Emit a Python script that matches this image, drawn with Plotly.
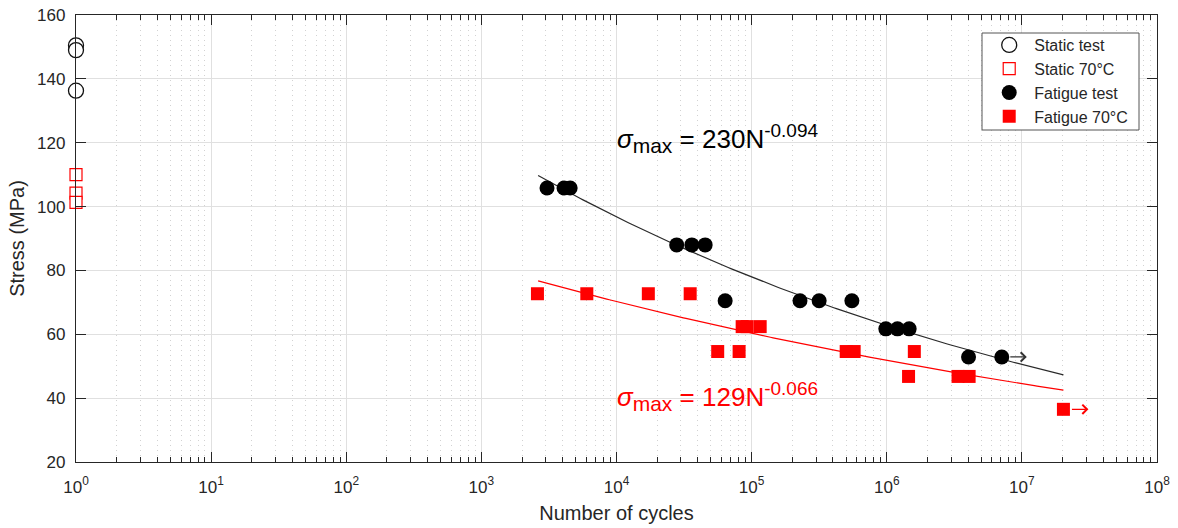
import numpy as np
import plotly.graph_objects as go

# ---- data -------------------------------------------------------------
static_n = [1, 1, 1]
static_s = [150.5, 149.0, 136.3]

static70_n = [1, 1, 1]
static70_s = [110.0, 104.2, 101.3]

fatigue_n = [3060, 4090, 4540, 27900, 36100, 45300, 63700, 228000, 316000,
             552000, 984000, 1200000, 1465000, 4030000, 7100000]
fatigue_s = [105.8, 105.8, 105.8, 88.0, 88.0, 88.0, 70.5, 70.5, 70.5,
             70.5, 61.7, 61.7, 61.7, 52.9, 52.9]

fatigue70_n = [2600, 6030, 17200, 35100, 85100, 92700, 115700, 56100, 80800,
               501000, 574000, 1600000, 1450000, 3370000, 4070000, 20300000]
fatigue70_s = [72.7, 72.7, 72.7, 72.7, 62.4, 62.4, 62.4, 54.6, 54.6,
               54.6, 54.6, 54.6, 46.8, 46.8, 46.8, 36.5]

# run-outs (specimens that did not fail)
runout_black = (7100000, 52.9)
runout_red = (20300000, 36.5)

# Basquin fits  sigma_max = A * N^b
fit_n_range = [2630, 20300000]
fit_black = (230, -0.094)
fit_red = (129, -0.066)

decades = list(range(0, 9))
tick_text = [f"10<sup>{d}</sup>" for d in decades]

FONT = "Arial, 'Liberation Sans', sans-serif"
INK = "#262626"
RED = "#ff0000"

# ---- figure -----------------------------------------------------------
fig = go.Figure()

n_fit = np.logspace(np.log10(fit_n_range[0]), np.log10(fit_n_range[1]), 200)
fig.add_trace(go.Scatter(x=n_fit, y=fit_black[0] * n_fit ** fit_black[1],
                         mode="lines", line=dict(color="#2a2a2a", width=1.2),
                         showlegend=False, hoverinfo="skip"))
fig.add_trace(go.Scatter(x=n_fit, y=fit_red[0] * n_fit ** fit_red[1],
                         mode="lines", line=dict(color=RED, width=1.2),
                         showlegend=False, hoverinfo="skip"))

fig.add_trace(go.Scatter(x=static_n, y=static_s, mode="markers", name="Static test",
                         marker=dict(symbol="circle", size=15, color="white",
                                     line=dict(color="#111111", width=1.3)),
                         cliponaxis=False))
fig.add_trace(go.Scatter(x=static70_n, y=static70_s, mode="markers", name="Static 70°C",
                         marker=dict(symbol="square", size=12, color="white",
                                     line=dict(color=RED, width=1.2)),
                         cliponaxis=False))
fig.add_trace(go.Scatter(x=fatigue_n, y=fatigue_s, mode="markers", name="Fatigue test",
                         marker=dict(symbol="circle", size=15, color="black",
                                     line=dict(width=0))))
fig.add_trace(go.Scatter(x=fatigue70_n, y=fatigue70_s, mode="markers", name="Fatigue 70°C",
                         marker=dict(symbol="square", size=13, color=RED,
                                     line=dict(width=0))))

# run-out arrows
for (n, s), col in [(runout_black, "#333333"), (runout_red, RED)]:
    fig.add_annotation(x=np.log10(n), y=s, xref="x", yref="y", text="",
                       showarrow=True, ax=-18, ay=0, xshift=25,
                       arrowhead=4, arrowsize=1.5, arrowwidth=1.2, arrowcolor=col)


def basquin_label(coef, expo):
    return ("<i>σ</i><sub><span style='font-size:21px'>max</span></sub> = "
            f"{coef}N<sup><span style='font-size:19px'>{expo}</span></sup>")


# fit equations
fig.add_annotation(xref="paper", yref="paper", x=0.4986, y=0.7245,
                   xanchor="left", yanchor="middle", showarrow=False,
                   text=basquin_label(*fit_black),
                   font=dict(family=FONT, size=26, color="black"))
fig.add_annotation(xref="paper", yref="paper", x=0.4986, y=0.1455,
                   xanchor="left", yanchor="middle", showarrow=False,
                   text=basquin_label(*fit_red),
                   font=dict(family=FONT, size=26, color=RED))

# legend frame
fig.add_shape(type="rect", xref="paper", yref="paper", layer="above",
              x0=(982 - 76) / 1081, x1=(1139 - 76) / 1081,
              y0=(462 - 130) / 447, y1=(462 - 33) / 447,
              fillcolor="white", line=dict(color="#555555", width=1))

minor_vals = [k * 10 ** d for d in range(0, 8) for k in range(2, 10)]

fig.update_xaxes(type="log", range=[0, 8], automargin=False,
                 tickmode="array", tickvals=[10 ** d for d in decades], ticktext=tick_text,
                 ticks="inside", ticklen=10, tickwidth=1, tickcolor=INK,
                 showline=True, linecolor=INK, linewidth=1.3, mirror="allticks",
                 showgrid=True, gridcolor="#e0e0e0", gridwidth=1, zeroline=False,
                 minor=dict(tickmode="array", tickvals=minor_vals, ticks="inside",
                            ticklen=5, tickcolor=INK, showgrid=True,
                            gridcolor="#d2d2d2", griddash="1px,4px", gridwidth=1),
                 tickfont=dict(family=FONT, size=17, color=INK),
                 ticklabelstandoff=9,
                 title=dict(text="Number of cycles", standoff=10,
                            font=dict(family=FONT, size=20, color=INK)))
fig.update_yaxes(range=[20, 160], tick0=20, dtick=20, automargin=False,
                 ticks="inside", ticklen=10, tickwidth=1, tickcolor=INK,
                 showline=True, linecolor=INK, linewidth=1.3, mirror="allticks",
                 showgrid=True, gridcolor="#e0e0e0", gridwidth=1, zeroline=False,
                 tickfont=dict(family=FONT, size=17, color=INK),
                 ticklabelstandoff=6,
                 title=dict(text="Stress (MPa)", standoff=7,
                            font=dict(family=FONT, size=20, color=INK)))

fig.update_layout(width=1178, height=528,
                  margin=dict(l=76, r=21, t=15, b=66, autoexpand=False),
                  paper_bgcolor="white", plot_bgcolor="white",
                  font=dict(family=FONT, color=INK),
                  legend=dict(x=0.978, y=(462 - 28) / 447, xanchor="right", yanchor="top",
                              bgcolor="rgba(0,0,0,0)", borderwidth=0,
                              font=dict(family=FONT, size=16, color=INK),
                              itemwidth=40, tracegroupgap=0))

fig.write_html("out.html")
